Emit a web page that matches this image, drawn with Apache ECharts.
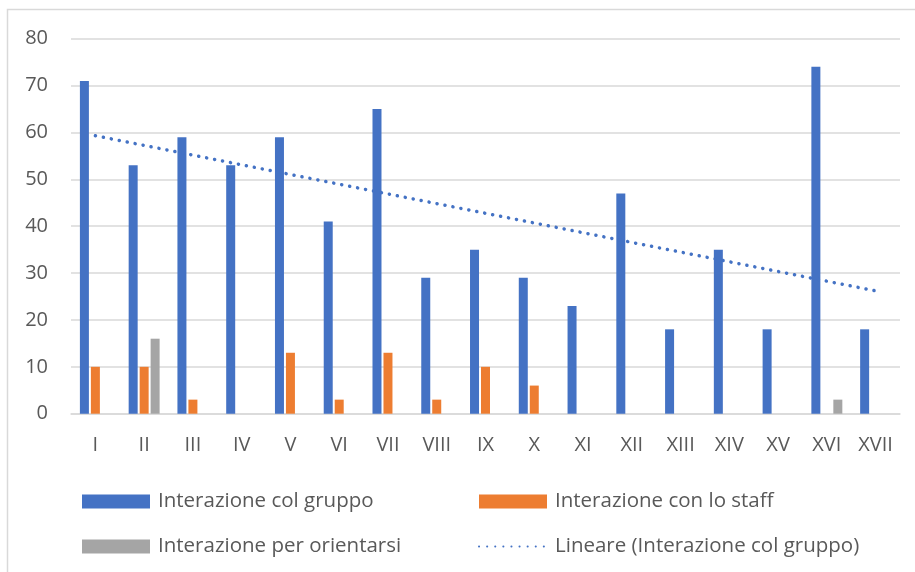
<!DOCTYPE html>
<html><head><meta charset="utf-8">
<script src="https://cdn.jsdelivr.net/npm/echarts@6/dist/echarts.min.js"></script>
<style>html,body{margin:0;padding:0;background:#fff}#c{width:915px;height:572px}</style>
</head><body><div id="c"></div>
<script>
const categories = ['I','II','III','IV','V','VI','VII','VIII','IX','X','XI','XII','XIII','XIV','XV','XVI','XVII'];
const gruppo = [71,53,59,53,59,41,65,29,35,29,23,47,18,35,18,74,18];
const staff = [10,10,3,0,13,3,13,3,10,6,0,0,0,0,0,0,0];
const orientarsi = [0,16,0,0,0,0,0,0,0,0,0,0,0,0,0,3,0];
// trendline endpoints (at I and XVII)
const trendStart = 59.3, trendEnd = 26.2;
const yTicks = [0,10,20,30,40,50,60,70,80];

const trend = categories.map((c,i)=> i===0 ? trendStart : (i===categories.length-1 ? trendEnd : null));
const names = ['Interazione col gruppo','Interazione con lo staff','Interazione per orientarsi','Lineare (Interazione col gruppo)'];
const font = '"Open Sans", sans-serif';
const txt = '#595959';
const legendText = {color:txt,fontFamily:font,fontSize:20.5,lineHeight:14,padding:[0,0,0,3]};
const chart = echarts.init(document.getElementById('c'), null, {renderer:'canvas'});
chart.setOption({
  animation:false,
  backgroundColor:'#fff',
  graphic:[{type:'rect', shape:{x:7.5,y:9.5,width:960,height:700}, style:{fill:'none',stroke:'#D9D9D9',lineWidth:1.5}, silent:true}],
  grid:{left:71,right:15,top:38.7,bottom:158.3},
  xAxis:{type:'category', data:categories,
    axisLine:{lineStyle:{color:'#D9D9D9',width:1.5}}, axisTick:{show:false},
    axisLabel:{color:txt,fontFamily:font,fontSize:20,margin:22}},
  yAxis:{type:'value', min:yTicks[0], max:yTicks[yTicks.length-1], interval:10,
    axisLine:{show:false}, axisTick:{show:false},
    splitLine:{lineStyle:{color:'#D9D9D9',width:1.5}},
    axisLabel:{color:txt,fontFamily:font,fontSize:20,margin:23}},
  legend:[
    {left:82,top:491,padding:0,orient:'vertical',itemWidth:68,itemHeight:14,itemGap:24,
     textStyle:legendText,data:[{name:names[0],icon:'rect'},{name:names[2],icon:'rect'}]},
    {left:478,top:491,padding:0,orient:'vertical',itemWidth:68,itemHeight:14,itemGap:24,
     textStyle:legendText,data:[{name:names[1],icon:'rect'},{name:names[3],itemStyle:{opacity:0}}]}
  ],
  series:[
    {name:names[0],type:'bar',data:gruppo,barWidth:9,barGap:'22%',itemStyle:{color:'#4472C4'}},
    {name:names[1],type:'bar',data:staff,barWidth:9,barGap:'22%',itemStyle:{color:'#ED7D31'}},
    {name:names[2],type:'bar',data:orientarsi,barWidth:9,barGap:'22%',itemStyle:{color:'#A5A5A5'}},
    {name:names[3],type:'line',data:trend,connectNulls:true,symbol:'none',
     lineStyle:{color:'#4472C4',width:3.5,type:[0.1,8],cap:'round'},itemStyle:{color:'#4472C4'}}
  ]
});
</script></body></html>
